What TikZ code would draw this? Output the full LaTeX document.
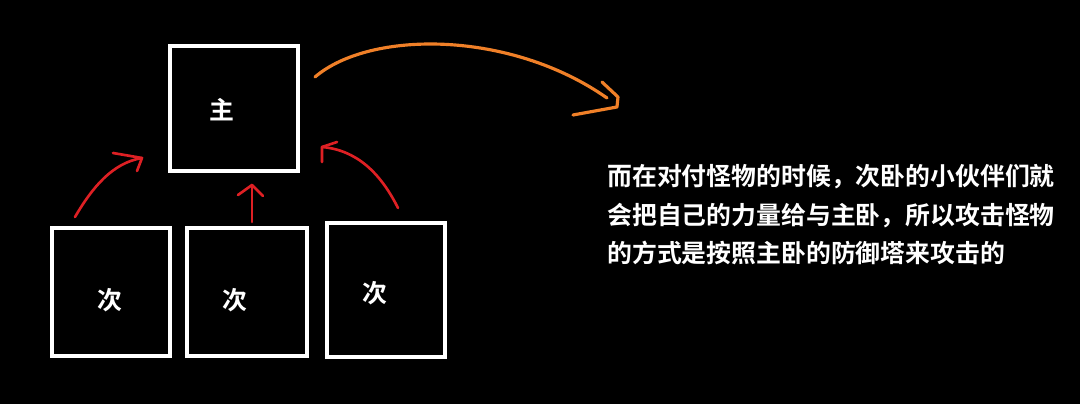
\documentclass[tikz,border=0pt]{standalone}
\usepackage{fontspec}
\newfontfamily\cjk{Noto Sans CJK SC}[BoldFont={Noto Sans CJK SC Bold}]
\definecolor{penred}{RGB}{222,32,36}
\definecolor{penorange}{RGB}{240,128,40}
\tikzset{
  room/.style={draw=white, line width=2.3pt, inner sep=0pt},
  word/.style={text=white, font=\cjk\bfseries\fontsize{14.15}{22}\selectfont, inner sep=0pt},
  pull/.style={penred, line width=1.5pt, line cap=round, line join=round},
  lead/.style={penorange, line width=1.8pt, line cap=round, line join=round}
}
\begin{document}
\begin{tikzpicture}[x=0.02cm, y=-0.02cm]

  % Background
  \fill[black] (0,0) rectangle (1080,404);

  % Main room
  \node (main) at (234,108.5) [room, minimum width=2.56cm, minimum height=2.5cm] {};
  \node (mainlbl) at (222,110) [word] {主};

  % Second rooms
  \node (sub1) at (111,292) [room, minimum width=2.36cm, minimum height=2.56cm] {};
  \node (sub1lbl) at (110,300) [word] {次};
  \node (sub2) at (247,292) [room, minimum width=2.4cm, minimum height=2.56cm] {};
  \node (sub2lbl) at (235,300) [word] {次};
  \node (sub3) at (386,290) [room, minimum width=2.36cm, minimum height=2.68cm] {};
  \node (sub3lbl) at (375,293) [word] {次};

  % Red arrow, left
  \coordinate (a1) at (75,217);
  \coordinate (b1) at (142,158);
  \draw[pull] (a1) .. controls (92,188) and (112,163) .. (b1);
  \draw[pull] (113,153) -- (b1) -- (137,171);

  % Red arrow, middle
  \coordinate (a2) at (252,222);
  \coordinate (b2) at (252,185);
  \draw[pull] (a2) -- (b2);
  \draw[pull] (238,195) -- (b2) -- (263,196);

  % Red arrow, right
  \coordinate (a3) at (398,208);
  \coordinate (b3) at (322,147);
  \draw[pull] (a3) .. controls (380,172) and (356,150) .. (b3);
  \draw[pull] (337,142) -- (b3) -- (322,162);

  % Orange arrow to the text
  \coordinate (o1) at (315,77);
  \coordinate (o2) at (607,98);
  \coordinate (tip) at (618,97);
  \draw[lead] (o1) .. controls (370,30) and (510,30) .. (o2);
  \draw[lead] (602,82) -- (tip) -- (617,107) -- (573,115);

  % Text
  \node (line1) at (607,186) [word, anchor=base west] {而在对付怪物的时候，次卧的小伙伴们就};
  \node (line2) at (607,225) [word, anchor=base west] {会把自己的力量给与主卧，所以攻击怪物};
  \node (line3) at (607,263) [word, anchor=base west] {的方式是按照主卧的防御塔来攻击的};

\end{tikzpicture}
\end{document}
